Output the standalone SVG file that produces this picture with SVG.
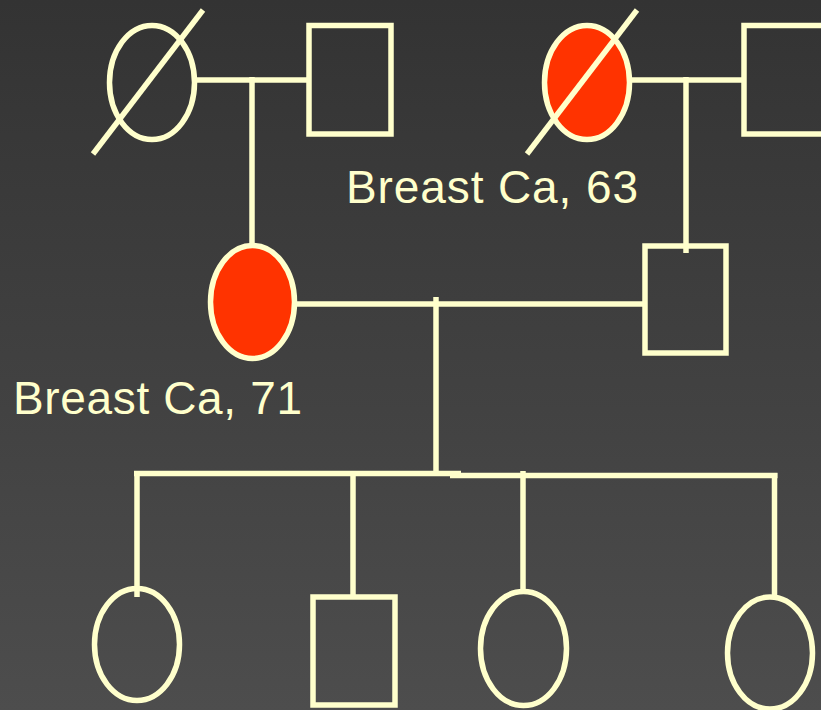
<svg xmlns="http://www.w3.org/2000/svg" width="821" height="710" viewBox="0 0 821 710">
  <defs>
    <linearGradient id="bg" x1="0" y1="0" x2="0" y2="1">
      <stop offset="0" stop-color="#333333"/>
      <stop offset="1" stop-color="#4d4d4d"/>
    </linearGradient>
    <style>
      .shape { fill: none; stroke: #ffffcc; stroke-width: 5.5; }
      .affected { fill: #ff3300; }
      .line { stroke: #ffffcc; stroke-width: 5.5; fill: none; stroke-linecap: butt; }
      .label { fill: #ffffcc; font-family: "Liberation Sans", Arial, sans-serif; font-size: 46px; }
    </style>
  </defs>
  <rect x="0" y="0" width="821" height="710" fill="url(#bg)"/>

  <g id="connectors">
    <line class="line" x1="197" y1="80" x2="308" y2="80"/>
    <line class="line" x1="252" y1="77" x2="252" y2="253"/>
    <line class="line" x1="632" y1="80" x2="743" y2="80"/>
    <line class="line" x1="686" y1="77" x2="686" y2="253"/>
    <line class="line" x1="292" y1="304" x2="647" y2="304"/>
    <line class="line" x1="436" y1="297" x2="436" y2="474"/>
    <line class="line" x1="134" y1="473.5" x2="461" y2="473.5"/>
    <line class="line" x1="450" y1="475.5" x2="777.5" y2="475.5"/>
    <line class="line" x1="137" y1="471" x2="137" y2="597"/>
    <line class="line" x1="353" y1="471" x2="353" y2="596"/>
    <line class="line" x1="523" y1="471" x2="523" y2="592"/>
    <line class="line" x1="774.5" y1="473" x2="774.5" y2="597"/>
  </g>

  <g id="grandmother-paternal">
    <ellipse class="shape" cx="152" cy="82.5" rx="42.5" ry="57"/>
    <line class="line" x1="93" y1="154" x2="203" y2="10"/>
  </g>
  <g id="grandfather-paternal">
    <rect class="shape" x="309" y="25.5" width="82" height="108.5"/>
  </g>
  <g id="grandmother-maternal">
    <ellipse class="shape affected" cx="587" cy="82.5" rx="42.5" ry="57"/>
    <line class="line" x1="527" y1="154" x2="637" y2="10"/>
  </g>
  <g id="grandfather-maternal">
    <rect class="shape" x="744" y="25.5" width="82" height="108.5"/>
  </g>
  <g id="mother">
    <ellipse class="shape affected" cx="252.5" cy="302" rx="42" ry="56.5"/>
  </g>
  <g id="father">
    <rect class="shape" x="645" y="246" width="81" height="107"/>
  </g>
  <g id="child1">
    <ellipse class="shape" cx="137" cy="644.5" rx="42.5" ry="56"/>
  </g>
  <g id="child2">
    <rect class="shape" x="313" y="597" width="82" height="108"/>
  </g>
  <g id="child3">
    <ellipse class="shape" cx="523.5" cy="648.5" rx="43" ry="57"/>
  </g>
  <g id="child4">
    <ellipse class="shape" cx="770" cy="653" rx="42.5" ry="56"/>
  </g>

  <g id="labels">
    <text class="label" x="346" y="202.5" textLength="292" lengthAdjust="spacing">Breast Ca, 63</text>
    <text class="label" x="13" y="414" textLength="289" lengthAdjust="spacing">Breast Ca, 71</text>
  </g>
</svg>
